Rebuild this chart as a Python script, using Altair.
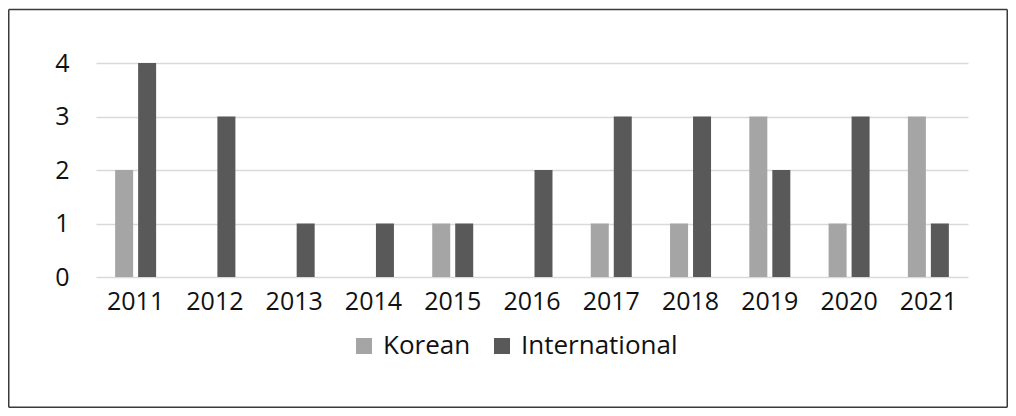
import altair as alt
import pandas as pd

years = ["2011", "2012", "2013", "2014", "2015", "2016", "2017", "2018", "2019", "2020", "2021"]
korean = [2, 0, 0, 0, 1, 0, 1, 1, 3, 1, 3]
international = [4, 3, 1, 1, 1, 2, 3, 3, 2, 3, 1]
series = ["Korean", "International"]
colors = ["#a5a5a5", "#595959"]

rows = []
for i, y in enumerate(years):
    rows.append({"year": y, "series": "Korean", "value": korean[i]})
    rows.append({"year": y, "series": "International", "value": international[i]})
df = pd.DataFrame(rows)

FONT = "Open Sans"
W, H = 872, 214
PL, PT = 88, 55
CW, CH = 1000, 400

bars = alt.Chart(df).mark_bar(size=18).encode(
    x=alt.X("year:N", sort=years,
            scale=alt.Scale(paddingInner=0.483, paddingOuter=0.2414),
            axis=alt.Axis(title=None, labelAngle=0, ticks=False, domain=False,
                          labelFont=FONT, labelFontSize=25, labelColor="#111111",
                          labelPadding=12, grid=False)),
    xOffset=alt.XOffset("series:N", sort=series,
                        scale=alt.Scale(paddingInner=0.217, paddingOuter=0)),
    y=alt.Y("value:Q", scale=alt.Scale(domain=[0, 4], nice=False),
            axis=alt.Axis(title=None, values=[0, 1, 2, 3, 4], ticks=False, domain=False,
                          labelFont=FONT, labelFontSize=25, labelColor="#111111",
                          labelPadding=27, grid=True, gridColor="#d9d9d9", gridWidth=1.5,
                          format="d")),
    color=alt.Color("series:N", sort=series,
                    scale=alt.Scale(domain=series, range=colors),
                    legend=alt.Legend(title=None, orient="none", direction="horizontal",
                                      legendX=255, legendY=270, symbolType="square",
                                      symbolSize=256, symbolStrokeWidth=0,
                                      labelFont=FONT, labelFontSize=26, labelColor="#111111",
                                      labelOffset=6, columnPadding=18, padding=0)),
)

border_df = pd.DataFrame({"k": [0]})
bx0, by0, bx1, by1 = -PL + 0.75, -PT + 1.5, CW - PL - 0.75, CH - PT - 0.75
rule_style = dict(color="#3a3a3a", strokeWidth=1.5)
top_border = alt.Chart(border_df).mark_rule(**rule_style).encode(
    x=alt.value(bx0), x2=alt.value(bx1), y=alt.value(by0)
)
bottom_border = alt.Chart(border_df).mark_rule(**rule_style).encode(
    x=alt.value(bx0), x2=alt.value(bx1), y=alt.value(by1)
)
left_border = alt.Chart(border_df).mark_rule(**rule_style).encode(
    x=alt.value(bx0), y=alt.value(by0), y2=alt.value(by1)
)
right_border = alt.Chart(border_df).mark_rule(**rule_style).encode(
    x=alt.value(bx1), y=alt.value(by0), y2=alt.value(by1)
)

chart = alt.layer(bars, top_border, bottom_border, left_border, right_border).properties(
    width=W, height=H,
    autosize=alt.AutoSizeParams(type="none"),
    padding={"left": PL, "top": PT, "right": CW - PL - W, "bottom": CH - PT - H},
    background="white",
).configure_view(stroke=None)

chart.save("out.html", embed_options={"renderer": "svg", "actions": False})
